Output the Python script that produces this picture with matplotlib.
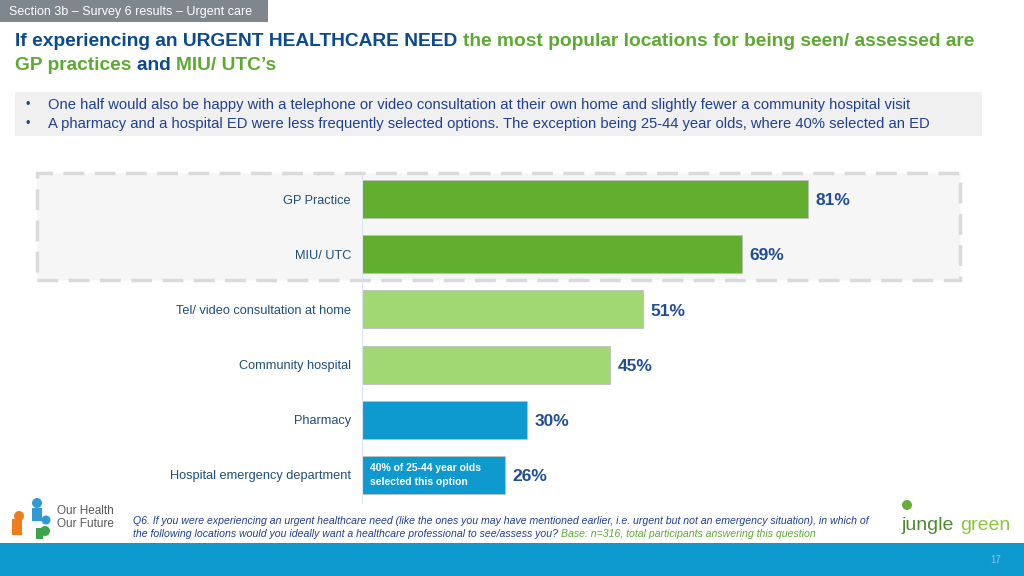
import matplotlib
matplotlib.use("Agg")
import matplotlib.pyplot as plt
from matplotlib.patches import Rectangle, Ellipse

plt.rcParams['font.family'] = ['Liberation Sans', 'DejaVu Sans']

# data
categories = ["GP Practice", "MIU/ UTC", "Tel/ video consultation at home",
              "Community hospital", "Pharmacy", "Hospital emergency department"]
values = [81, 69, 51, 45, 30, 26]
colors = ["#62AE2F", "#62AE2F", "#A2D874", "#A2D874", "#0E9ACF", "#0E9ACF"]

DARK = "#0B4A8F"
GREEN = "#5DAA32"
W, H = 1024, 576

fig = plt.figure(figsize=(W / 100, H / 100), dpi=100)
fig.patch.set_facecolor("white")

def fx(px): return px / W
def fy(py): return 1 - py / H

def frect(x0, y0, x1, y1, **kw):
    fig.patches.append(Rectangle((fx(x0), fy(y1)), fx(x1) - fx(x0), fy(y0) - fy(y1),
                                 transform=fig.transFigure, **kw))

def dot(cx, cy, r, c):
    fig.patches.append(Ellipse((fx(cx), fy(cy)), 2 * r / W, 2 * r / H,
                               transform=fig.transFigure, facecolor=c, edgecolor="none"))

# header tab
frect(0, 0, 268, 22, facecolor="#7F868E", edgecolor="none")
fig.text(fx(9), fy(11.5), "Section 3b – Survey 6 results – Urgent care", color="white",
         fontsize=9, va="center", ha="left")

# multi-coloured title
renderer = fig.canvas.get_renderer()
def colored_line(parts, x, y, size=13.8):
    for txt, col in parts:
        t = fig.text(fx(x), fy(y), txt, color=col, fontsize=size, fontweight="bold",
                     va="center", ha="left")
        bb = t.get_window_extent(renderer)
        x += bb.width

colored_line([("If experiencing an URGENT HEALTHCARE NEED ", DARK),
              ("the most popular locations for being seen/ assessed are", GREEN)], 15, 42)
colored_line([("GP practices ", GREEN), ("and ", DARK), ("MIU/ UTC’s", GREEN)], 15, 65)

# bullet box
frect(15, 92, 982, 136, facecolor="#F0F0F0", edgecolor="none")
bullets = ["One half would also be happy with a telephone or video consultation at their own home and slightly fewer a community hospital visit",
           "A pharmacy and a hospital ED were less frequently selected options. The exception being 25-44 year olds, where 40% selected an ED"]
for i, b in enumerate(bullets):
    yy = 105 + i * 19
    fig.text(fx(25), fy(yy), "•", color="#1F3F8F", fontsize=9, va="center")
    fig.text(fx(48), fy(yy), b, color="#1F3F8F", fontsize=10.6, va="center")

# dashed highlight box (behind the bars)
fig.patches.append(Rectangle((fx(37), fy(280)), fx(960) - fx(37), fy(173) - fy(280),
                             transform=fig.transFigure, facecolor="#F6F6F6",
                             edgecolor="#DADADA", lw=2.5, ls=(0, (6, 3)), zorder=-1))

# bar chart
ax = fig.add_axes([fx(362), fy(502.5), fx(1000) - fx(362), fy(171.5) - fy(502.5)])
ax.set_zorder(2)
ax.patch.set_alpha(0)
ypos = list(range(len(categories)))
ax.barh(ypos, values, height=0.69, color=colors, edgecolor="#BFBFBF", linewidth=0.6)
ax.set_xlim(0, (1000 - 362) / 5.506)
ax.set_ylim(len(categories) - 0.5, -0.5)
ax.set_yticks(ypos)
ax.set_yticklabels(categories, color="#1F4E79", fontsize=9.2)
ax.tick_params(axis="y", length=0, pad=8)
ax.set_xticks([])
for s in ["top", "right", "bottom"]:
    ax.spines[s].set_visible(False)
ax.spines["left"].set_color("#D6E6F5")
ax.spines["left"].set_linewidth(0.8)
for y, v in zip(ypos, values):
    ax.text(v + 1.4, y + 0.03, f"{v}%", color="#1F4E96", fontsize=12.5, fontweight="bold",
            va="center", ha="left")
ax.text(1.5, 5, "40% of 25-44 year olds\nselected this option", color="white",
        fontsize=7.5, fontweight="bold", va="center", ha="left", linespacing=1.45)

# footnote
fs = 7.6
fig.text(fx(133), fy(521), "Q6. If you were experiencing an urgent healthcare need (like the ones you may have mentioned earlier, i.e. urgent but not an emergency situation), in which of",
         color="#1F3F8F", fontsize=fs, style="italic", va="center")
t = fig.text(fx(133), fy(534), "the following locations would you ideally want a healthcare professional to see/assess you? ",
             color="#1F3F8F", fontsize=fs, style="italic", va="center")
bb = t.get_window_extent(renderer)
fig.text(fx(133) + bb.width / W, fy(534), "Base: n=316, total participants answering this question",
         color=GREEN, fontsize=fs, style="italic", va="center")

# left logo (simple shapes)
dot(37, 503, 5, "#2E9BD6")
dot(19, 516, 5, "#F07D1A")
dot(46, 520, 4.5, "#2E9BD6")
dot(45, 531, 5, "#3AA54A")
frect(32, 508, 42, 521, facecolor="#2E9BD6", edgecolor="none")
frect(12, 519, 22, 535, facecolor="#F07D1A", edgecolor="none")
frect(36, 528, 43, 539, facecolor="#3AA54A", edgecolor="none")
fig.text(fx(57), fy(511), "Our Health", color="#595959", fontsize=8.5, va="center")
fig.text(fx(57), fy(524), "Our Future", color="#595959", fontsize=8.5, va="center")

# right logo
t = fig.text(fx(902), fy(526), "jungle", color="#4E8B2E", fontsize=14, va="center")
bb = t.get_window_extent(renderer)
fig.text(fx(902) + (bb.width + 6) / W, fy(526), "green", color="#8DC63F", fontsize=14,
         va="center")
dot(907, 505, 5, "#6AAE3A")

# bottom band
frect(0, 543, W, H, facecolor="#0E9ACF", edgecolor="none")
fig.text(fx(996), fy(560), "17", color="#7FC6E8", fontsize=7, va="center", ha="center")

fig.savefig("out.png", dpi=100)
